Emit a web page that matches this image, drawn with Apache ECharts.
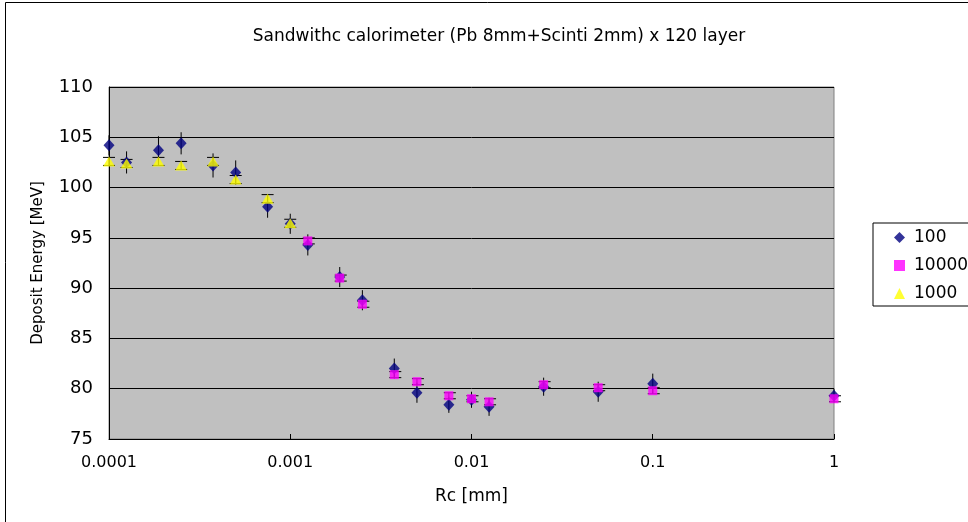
<!DOCTYPE html>
<html>
<head>
<meta charset="utf-8">
<script src="https://cdn.jsdelivr.net/npm/echarts@6/dist/echarts.min.js"></script>
<style>html,body{margin:0;padding:0;background:#fff;}#c{width:968px;height:522px;}</style>
</head>
<body>
<div id="c"></div>
<script>
// Data
const titleText = 'Sandwithc calorimeter (Pb 8mm+Scinti 2mm) x 120 layer';
const xName = 'Rc [mm]';
const yName = 'Deposit Energy [MeV]';
const xTickLabels = ['0.0001', '0.001', '0.01', '0.1', '1'];
const seriesNames = ['100', '10000', '1000'];

const x100 = [0.0001, 0.000125, 0.0001875, 0.00025, 0.000375, 0.0005, 0.00075, 0.001, 0.00125, 0.001875, 0.0025, 0.00375, 0.005, 0.0075, 0.01, 0.0125, 0.025, 0.05, 0.1, 1];
const y100 = [104.2, 102.5, 103.7, 104.4, 102.2, 101.5, 98.1, 96.4, 94.3, 91.1, 88.8, 82.0, 79.6, 78.4, 78.9, 78.2, 80.2, 79.7, 80.5, 79.3];
const e100 = [1.0, 1.1, 1.4, 1.1, 1.2, 1.2, 1.1, 1.0, 1.05, 1.0, 1.0, 1.0, 1.0, 0.8, 0.8, 0.9, 0.9, 1.0, 1.0, 0.7];

const x10000 = [0.00125, 0.001875, 0.0025, 0.00375, 0.005, 0.0075, 0.01, 0.0125, 0.025, 0.05, 0.1, 1];
const y10000 = [94.7, 91.0, 88.4, 81.4, 80.7, 79.3, 79.0, 78.7, 80.4, 80.1, 79.8, 79.0];
const e10000 = [0.3, 0.3, 0.3, 0.3, 0.3, 0.3, 0.3, 0.3, 0.3, 0.3, 0.3, 0.3];

const x1000 = [0.0001, 0.000125, 0.0001875, 0.00025, 0.000375, 0.0005, 0.00075, 0.001];
const y1000 = [102.6, 102.4, 102.6, 102.2, 102.6, 100.8, 98.9, 96.45];
const e1000 = [0.4, 0.4, 0.4, 0.4, 0.4, 0.4, 0.4, 0.4];

function pts(xs, ys) { return xs.map((x, i) => [x, ys[i]]); }
function errPts(xs, ys, es) { return xs.map((x, i) => [x, ys[i], es[i]]); }

function errRender(capW, capDx) {
  return function (params, api) {
    const x = api.value(0), y = api.value(1), e = api.value(2);
    const top = api.coord([x, y + e]);
    const bot = api.coord([x, y - e]);
    const st = { stroke: '#000', lineWidth: 1 };
    const children = [{ type: 'line', shape: { x1: top[0], y1: top[1], x2: bot[0], y2: bot[1] }, style: st }];
    if (capW > 0) {
      children.push({ type: 'line', shape: { x1: top[0] - capW / 2 + capDx, y1: top[1], x2: top[0] + capW / 2 + capDx, y2: top[1] }, style: st });
      children.push({ type: 'line', shape: { x1: bot[0] - capW / 2 + capDx, y1: bot[1], x2: bot[0] + capW / 2 + capDx, y2: bot[1] }, style: st });
    }
    return { type: 'group', children: children };
  };
}

const font = 'DejaVu Sans';
const chart = echarts.init(document.getElementById('c'), null, { renderer: 'canvas' });
chart.setOption({
  animation: false,
  backgroundColor: '#fff',
  title: {
    text: titleText, left: 494, top: 23, textAlign: 'center',
    textStyle: { fontFamily: font, fontSize: 17, fontWeight: 'normal', color: '#000' }
  },
  graphic: [{
    type: 'rect', shape: { x: 5.5, y: 2.5, width: 1000, height: 1000 },
    style: { fill: 'none', stroke: '#000', lineWidth: 1 }, silent: true, z: 100
  }],
  legend: {
    data: seriesNames, orient: 'vertical', left: 873, top: 223,
    borderColor: '#000', borderWidth: 1, padding: [6, 40, 4, 21],
    itemWidth: 11, itemHeight: 11, itemGap: 11,
    textStyle: { fontFamily: font, fontSize: 17, color: '#000', padding: [0, 0, 0, 4] }
  },
  grid: { left: 109, right: 134, top: 87, bottom: 83, show: true, backgroundColor: '#c0c0c0', borderColor: '#808080', borderWidth: 1 },
  xAxis: {
    type: 'log', logBase: 10, min: 0.0001, max: 1,
    name: xName, nameLocation: 'middle', nameGap: 49,
    nameTextStyle: { fontFamily: font, fontSize: 17, color: '#000' },
    axisLine: { show: true, lineStyle: { color: '#000', width: 1 } },
    axisTick: { show: true, inside: true, length: 5, lineStyle: { color: '#000' } },
    minorTick: { show: false },
    splitLine: { show: false },
    axisLabel: {
      margin: 16, fontFamily: font, fontSize: 16, color: '#000',
      formatter: function (v) { const k = Math.round(Math.log10(v)) + 4; return xTickLabels[k] !== undefined ? xTickLabels[k] : ''; }
    }
  },
  yAxis: {
    type: 'value', min: 75, max: 110, interval: 5,
    name: yName, nameLocation: 'middle', nameGap: 63, nameRotate: 90,
    nameTextStyle: { fontFamily: font, fontSize: 15, color: '#000' },
    axisLine: { show: true, lineStyle: { color: '#000', width: 1 } },
    axisTick: { show: false },
    splitLine: { show: true, lineStyle: { color: '#000', width: 1 } },
    axisLabel: { margin: 16, fontFamily: font, fontSize: 18, color: '#000' }
  },
  series: [
    { name: 'e100', type: 'custom', renderItem: errRender(0, 0), data: errPts(x100, y100, e100), z: 2, silent: true },
    { name: 'e10000', type: 'custom', renderItem: errRender(12, 1), data: errPts(x10000, y10000, e10000), z: 2, silent: true },
    { name: 'e1000', type: 'custom', renderItem: errRender(12, 0), data: errPts(x1000, y1000, e1000), z: 2, silent: true },
    { name: '100', type: 'scatter', symbol: 'diamond', symbolSize: [11, 12], itemStyle: { color: '#000080' }, data: pts(x100, y100), z: 3 },
    { name: '10000', type: 'scatter', symbol: 'rect', symbolSize: 9, itemStyle: { color: '#ff00ff' }, data: pts(x10000, y10000), z: 4 },
    { name: '1000', type: 'scatter', symbol: 'triangle', symbolSize: [12, 10], itemStyle: { color: '#ffff00' }, data: pts(x1000, y1000), z: 5 }
  ]
});
</script>
</body>
</html>
